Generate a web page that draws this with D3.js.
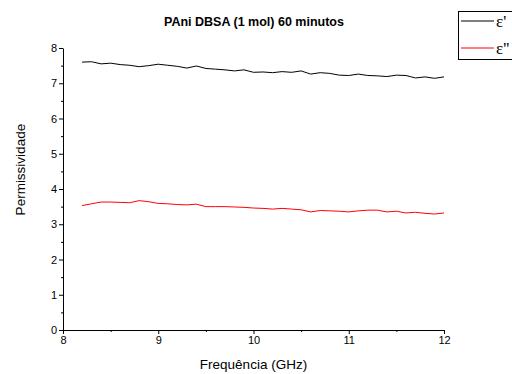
<!DOCTYPE html>
<html>
<head>
<meta charset="utf-8">
<script src="https://cdn.jsdelivr.net/npm/d3@7"></script>
<style>
  body { margin: 0; background: #fff; }
  svg { font-family: "Liberation Sans", Arial, sans-serif; }
</style>
</head>
<body>
<div id="chart"></div>
<script>
// frequency (GHz)
const freq = [8.2, 8.3, 8.4, 8.5, 8.6, 8.7, 8.8, 8.9, 9.0, 9.1, 9.2, 9.3, 9.4, 9.5, 9.6, 9.7, 9.8, 9.9,
              10.0, 10.1, 10.2, 10.3, 10.4, 10.5, 10.6, 10.7, 10.8, 10.9, 11.0, 11.1, 11.2, 11.3, 11.4,
              11.5, 11.6, 11.7, 11.8, 11.9, 12.0];
// real part e'
const epsReal = [7.60, 7.61, 7.55, 7.57, 7.53, 7.51, 7.47, 7.50, 7.54, 7.51, 7.48, 7.43, 7.49, 7.42, 7.40, 7.38,
                 7.35, 7.38, 7.31, 7.32, 7.30, 7.33, 7.31, 7.35, 7.26, 7.30, 7.28, 7.23, 7.22, 7.26, 7.22,
                 7.21, 7.19, 7.23, 7.22, 7.15, 7.18, 7.14, 7.18];
// imaginary part e''
const epsImag = [3.53, 3.58, 3.63, 3.63, 3.62, 3.61, 3.67, 3.64, 3.59, 3.58, 3.56, 3.55, 3.57, 3.50, 3.50, 3.50,
                 3.49, 3.48, 3.46, 3.45, 3.43, 3.45, 3.43, 3.41, 3.35, 3.39, 3.38, 3.37, 3.35, 3.38, 3.40,
                 3.40, 3.35, 3.37, 3.32, 3.34, 3.31, 3.29, 3.32];
const xTicks = [8, 9, 10, 11, 12];
const yTicks = [0, 1, 2, 3, 4, 5, 6, 7, 8];
const seriesNames = ["\u03b5'", "\u03b5''"];
const seriesColors = ["#000000", "#ff0000"];

const width = 512, height = 374;
const margin = {left: 63, right: 68, top: 48, bottom: 44};

const svg = d3.select("#chart").append("svg")
  .attr("width", width)
  .attr("height", height);

const x = d3.scaleLinear().domain([8, 12]).range([margin.left, width - margin.right]);
const y = d3.scaleLinear().domain([0, 8]).range([height - margin.bottom, margin.top]);

// minor ticks
const xMinor = d3.range(8.5, 12, 1);
const yMinor = d3.range(0.5, 8, 1);

svg.append("g")
  .attr("transform", `translate(0,${y(0)})`)
  .call(d3.axisBottom(x).tickValues(xMinor).tickSize(2).tickFormat(""))
  .call(g => g.select(".domain").remove());
svg.append("g")
  .attr("transform", `translate(${x(8)},0)`)
  .call(d3.axisLeft(y).tickValues(yMinor).tickSize(2).tickFormat(""))
  .call(g => g.select(".domain").remove());

const xAxis = svg.append("g")
  .attr("transform", `translate(0,${y(0)})`)
  .call(d3.axisBottom(x).tickValues(xTicks).tickSize(4).tickSizeOuter(0).tickPadding(2).tickFormat(d3.format("d")));
const yAxis = svg.append("g")
  .attr("transform", `translate(${x(8)},0)`)
  .call(d3.axisLeft(y).tickValues(yTicks).tickSize(4).tickSizeOuter(0).tickPadding(2).tickFormat(d3.format("d")));

[xAxis, yAxis].forEach(g => {
  g.selectAll("text").attr("font-size", 11).attr("fill", "#000").attr("font-family", "Liberation Sans, Arial, sans-serif");
  g.selectAll("line, path").attr("stroke", "#000");
});

const line = d3.line().x((d, i) => x(freq[i])).y(d => y(d));

[epsReal, epsImag].forEach((vals, k) => {
  svg.append("path")
    .datum(vals)
    .attr("fill", "none")
    .attr("stroke", seriesColors[k])
    .attr("stroke-width", 1)
    .attr("d", line);
});

// title
svg.append("text")
  .attr("x", 254).attr("y", 26)
  .attr("text-anchor", "middle")
  .attr("font-weight", "bold")
  .attr("font-size", 12.5)
  .text("PAni DBSA (1 mol) 60 minutos");

// axis labels
svg.append("text")
  .attr("x", x(10)).attr("y", 369)
  .attr("text-anchor", "middle")
  .attr("font-size", 13.5)
  .text("Frequência (GHz)");
svg.append("text")
  .attr("transform", `translate(25,${y(4.55)}) rotate(-90)`)
  .attr("text-anchor", "middle")
  .attr("font-size", 13.5)
  .text("Permissividade");

// legend
const legend = svg.append("g").attr("transform", "translate(458,11)");
legend.append("rect")
  .attr("x", 0.5).attr("y", 0.5)
  .attr("width", 70).attr("height", 48)
  .attr("fill", "#fff").attr("stroke", "#000");
seriesNames.forEach((name, k) => {
  const ly = 10 + k * 27;
  legend.append("line")
    .attr("x1", 3).attr("x2", 36)
    .attr("y1", ly).attr("y2", ly)
    .attr("stroke", seriesColors[k]);
  legend.append("text")
    .attr("x", 38).attr("y", ly + 6)
    .attr("font-family", "Liberation Serif, Times New Roman, serif")
    .attr("font-size", 17)
    .text(name);
});
</script>
</body>
</html>
